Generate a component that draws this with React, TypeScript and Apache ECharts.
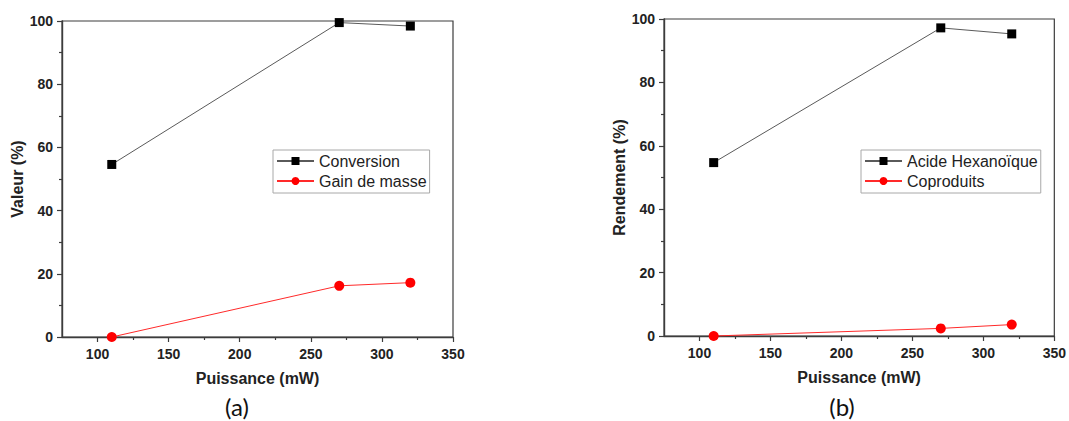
import React, { useEffect, useRef } from "react";
import * as echarts from "echarts";

// Data
const power = [110, 270, 320];
const conversion = [54.6, 99.5, 98.4];
const gainMasse = [0, 16.2, 17.2];
const acideHexanoique = [54.7, 97.2, 95.3];
const coproduits = [0, 2.4, 3.6];

const xMajorTicks = [100, 150, 200, 250, 300, 350];
const xMinorTicks = [125, 175, 225, 275, 325];

const FONT = "'Liberation Sans', Arial, sans-serif";
const AXIS_COLOR = "#3c3c3c";

const pairs = (xs: number[], ys: number[]) => xs.map((x, i) => [x, ys[i]]);

function mainXAxis(gridIndex: number) {
  return {
    gridIndex,
    type: "value",
    min: 75,
    max: 350,
    position: "bottom",
    axisLine: { show: true, onZero: false, lineStyle: { color: AXIS_COLOR, width: 1.4 } },
    axisTick: { show: true, inside: false, length: 5, customValues: xMajorTicks, lineStyle: { color: AXIS_COLOR, width: 1.2 } },
    axisLabel: { show: true, customValues: xMajorTicks, margin: 10, fontFamily: FONT, fontWeight: "bold", fontSize: 14, color: "#222" },
    splitLine: { show: false },
    name: "Puissance (mW)",
    nameLocation: "middle",
    nameGap: 33,
    nameTextStyle: { fontFamily: FONT, fontWeight: "bold", fontSize: 16, color: "#222" },
  };
}

function minorXAxis(gridIndex: number) {
  return {
    gridIndex,
    type: "value",
    min: 75,
    max: 350,
    position: "bottom",
    axisLine: { show: false },
    axisTick: { show: true, inside: false, length: 3, customValues: xMinorTicks, lineStyle: { color: AXIS_COLOR, width: 1.2 } },
    axisLabel: { show: false },
    splitLine: { show: false },
  };
}

function yAxisFor(gridIndex: number, name: string) {
  return {
    gridIndex,
    type: "value",
    min: 0,
    max: 100,
    interval: 20,
    axisLine: { show: true, onZero: false, lineStyle: { color: AXIS_COLOR, width: 1.4 } },
    axisTick: { show: true, inside: false, length: 5, lineStyle: { color: AXIS_COLOR, width: 1.2 } },
    minorTick: { show: true, splitNumber: 2, length: 3, lineStyle: { color: AXIS_COLOR, width: 1.2 } },
    axisLabel: { margin: 9, fontFamily: FONT, fontWeight: "bold", fontSize: 14, color: "#222" },
    splitLine: { show: false },
    minorSplitLine: { show: false },
    name,
    nameLocation: "middle",
    nameGap: 35,
    nameTextStyle: { fontFamily: FONT, fontWeight: "bold", fontSize: 16, color: "#222" },
  };
}

function legendFor(names: string[], left: number, top: number) {
  return {
    data: names,
    orient: "vertical",
    left,
    top,
    itemWidth: 37,
    itemHeight: 10,
    itemGap: 2,
    padding: [2, 3, 3, 3],
    borderColor: "#a8a8a8",
    borderWidth: 1,
    backgroundColor: "#fff",
    textStyle: { fontFamily: FONT, fontSize: 16, color: "#222", lineHeight: 18 },
  };
}

function blackSeries(name: string, x: number, y: number, ys: number[]) {
  return {
    type: "line",
    name,
    xAxisIndex: x,
    yAxisIndex: y,
    data: pairs(power, ys),
    symbol: "rect",
    symbolSize: 9,
    lineStyle: { color: "#5a5a5a", width: 1 },
    itemStyle: { color: "#000" },
    clip: false,
  };
}

function redSeries(name: string, x: number, y: number, ys: number[]) {
  return {
    type: "line",
    name,
    xAxisIndex: x,
    yAxisIndex: y,
    data: pairs(power, ys),
    symbol: "circle",
    symbolSize: 10,
    lineStyle: { color: "#ff2a2a", width: 1 },
    itemStyle: { color: "#ff0000" },
    clip: false,
  };
}

export default function App() {
  const ref = useRef<HTMLDivElement>(null);

  useEffect(() => {
    if (!ref.current) return;
    const chart = echarts.init(ref.current, undefined, { renderer: "svg" });
    const option: any = {
      animation: false,
      backgroundColor: "#fff",
      grid: [
        { left: 62, top: 21, width: 391, height: 316, show: true, borderColor: AXIS_COLOR, borderWidth: 1.2, backgroundColor: "transparent" },
        { left: 664, top: 19, width: 395, height: 317, show: true, borderColor: AXIS_COLOR, borderWidth: 1.2, backgroundColor: "transparent" },
      ],
      xAxis: [mainXAxis(0), minorXAxis(0), mainXAxis(1), minorXAxis(1)],
      yAxis: [yAxisFor(0, "Valeur (%)"), yAxisFor(1, "Rendement (%)")],
      legend: [
        legendFor(["Conversion", "Gain de masse"], 273, 150),
        legendFor(["Acide Hexanoïque", "Coproduits"], 861, 150),
      ],
      series: [
        blackSeries("Conversion", 0, 0, conversion),
        redSeries("Gain de masse", 0, 0, gainMasse),
        blackSeries("Acide Hexanoïque", 2, 1, acideHexanoique),
        redSeries("Coproduits", 2, 1, coproduits),
      ],
      graphic: [
        {
          type: "text",
          x: 237,
          y: 406,
          style: { text: "(a)", fontFamily: "Lato, 'Open Sans', sans-serif", fontSize: 24, fill: "#111", textAlign: "center", textVerticalAlign: "middle" },
        },
        {
          type: "text",
          x: 842,
          y: 406,
          style: { text: "(b)", fontFamily: "Lato, 'Open Sans', sans-serif", fontSize: 24, fill: "#111", textAlign: "center", textVerticalAlign: "middle" },
        },
      ],
    };
    chart.setOption(option);
    return () => chart.dispose();
  }, []);

  return (
    <div
      ref={ref}
      style={{ position: "absolute", left: 0, top: 0, width: 1069, height: 421, background: "#fff" }}
    />
  );
}
